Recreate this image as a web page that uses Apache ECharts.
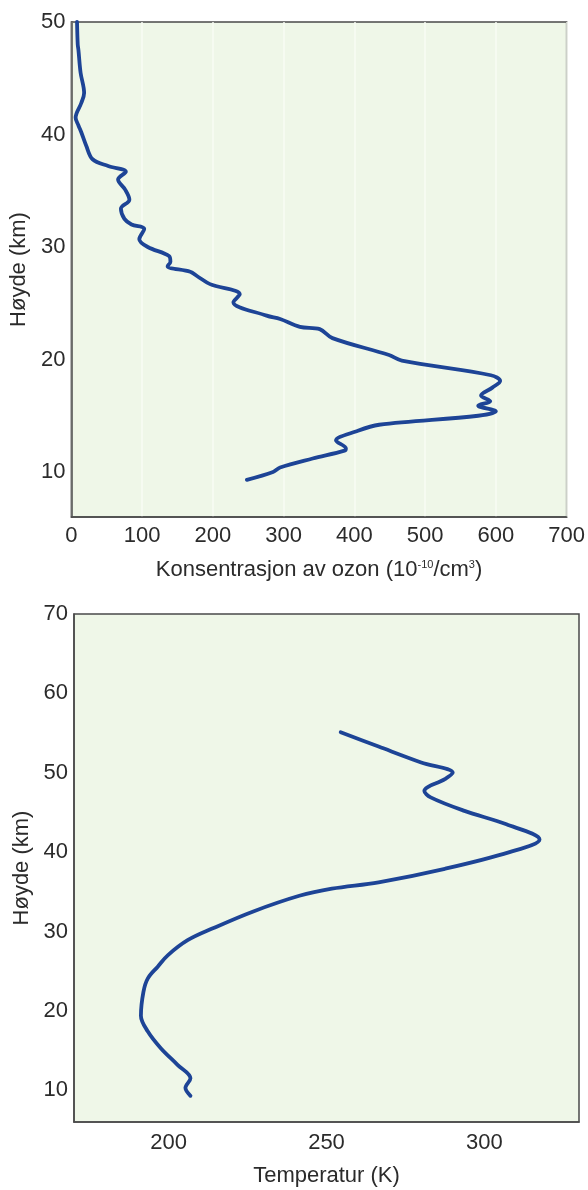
<!DOCTYPE html>
<html>
<head>
<meta charset="utf-8">
<script src="https://cdn.jsdelivr.net/npm/echarts@6/dist/echarts.min.js"></script>
<style>
html,body{margin:0;padding:0;background:#fff;}
#c{width:588px;height:1190px;}
</style>
</head>
<body>
<div id="c"></div>
<script>
// Ozone profile (top chart)
var ozoneHeight = [50.0,48.0,47.5,45.5,43.7,42.8,41.5,40.8,40.2,39.0,37.8,37.2,36.7,36.0,35.1,34.2,33.4,32.5,32.0,31.6,30.7,30.0,29.2,28.7,28.3,27.8,27.4,26.7,25.8,25.1,23.9,23.6,22.9,22.7,21.9,20.4,19.9,18.6,18.1,17.5,16.8,16.3,15.9,15.4,15.0,14.2,13.6,12.8,12.1,11.9,11.2,10.4,10.0,9.3];
var ozoneConc   = [8,9,10,13,18,14,6,10,14,21,30,52,77,66,76,82,70,75,85,103,96,108,138,140,136,168,178,196,238,229,276,295,323,351,369,449,467,593,606,595,579,592,575,600,575,435,402,374,388,386,341,295,285,248];
// Temperature profile (bottom chart)
var tempHeight = [55.1,53.3,51.3,50.0,49.2,47.7,46.9,45.2,43.5,41.6,40.0,37.9,36.2,35.4,34.5,32.5,30.4,28.9,27.0,25.6,24.1,22.4,19.4,17.4,15.3,13.2,11.5,10.3,9.3];
var tempK      = [254.5,266.5,280,290,287.5,281,283,293.7,307,317.5,308,287.5,266.5,251.7,241.4,226.6,214,206,199.7,196.6,193.4,192,191.2,193.4,197.5,202.8,206.9,205.3,206.9];
// Axis labels / titles
var ozoneTicksX = [0,100,200,300,400,500,600,700];
var ozoneTicksY = [10,20,30,40,50];
var tempTicksX = [200,250,300];
var tempTicksY = [10,20,30,40,50,60,70];
var yTitle = 'Høyde (km)';
var tempTitle = 'Temperatur (K)';

var ozoneData = ozoneHeight.map(function(h,i){return [ozoneConc[i], h];});
var tempData = tempHeight.map(function(h,i){return [tempK[i], h];});

var FONT = 'Liberation Sans, Arial, sans-serif';
var TXT = '#2b2b2b';
var LINE = '#1d4496';
var BG = '#eff7e8';
var FRAME = '#4a4a4a';

function onlyIn(list){
  return function(v){ return list.indexOf(Math.round(v)) >= 0 ? String(Math.round(v)) : ''; };
}

var chart = echarts.init(document.getElementById('c'), null, {renderer:'canvas'});
chart.setOption({
  backgroundColor:'#fff',
  animation:false,
  grid:[
    {left:71, top:22, width:496, height:495, show:true, backgroundColor:BG, borderColor:FRAME, borderWidth:1.5},
    {left:74, top:614, width:505, height:508, show:true, backgroundColor:BG, borderColor:FRAME, borderWidth:1.5}
  ],
  xAxis:[
    {gridIndex:0, type:'value', min:0, max:700, interval:100,
     axisLine:{show:true, lineStyle:{color:FRAME, width:1.5}}, axisTick:{show:false},
     splitLine:{show:true, lineStyle:{color:'#f8fcf4', width:1.5}},
     axisLabel:{color:TXT, fontSize:22, fontFamily:FONT, margin:8, formatter:onlyIn(ozoneTicksX)},
     name:'{n|Konsentrasjon av ozon (10}{s|-10}{n|/cm}{s|3}{n|)}', nameLocation:'middle', nameGap:42,
     nameTextStyle:{rich:{n:{fontSize:22, fontFamily:FONT, color:TXT}, s:{fontSize:11, fontFamily:FONT, color:TXT, verticalAlign:'top', padding:[0,0,10,0]}}}
    },
    {gridIndex:1, type:'value', min:170, max:330, interval:10,
     axisLine:{show:true, lineStyle:{color:FRAME, width:1.5}}, axisTick:{show:false},
     splitLine:{show:false},
     axisLabel:{color:TXT, fontSize:22, fontFamily:FONT, margin:10, formatter:onlyIn(tempTicksX)},
     name:tempTitle, nameLocation:'middle', nameGap:43,
     nameTextStyle:{fontSize:22, fontFamily:FONT, color:TXT}
    }
  ],
  yAxis:[
    {gridIndex:0, type:'value', min:6, max:50, interval:2,
     axisLine:{show:true, lineStyle:{color:FRAME, width:1.5}}, axisTick:{show:false},
     splitLine:{show:false},
     axisLabel:{color:TXT, fontSize:22, fontFamily:FONT, margin:6, formatter:onlyIn(ozoneTicksY)},
     name:yTitle, nameLocation:'middle', nameGap:37,
     nameTextStyle:{fontSize:22, fontFamily:FONT, color:TXT}
    },
    {gridIndex:1, type:'value', min:6, max:70, interval:2,
     axisLine:{show:true, lineStyle:{color:FRAME, width:1.5}}, axisTick:{show:false},
     splitLine:{show:false},
     axisLabel:{color:TXT, fontSize:22, fontFamily:FONT, margin:6, formatter:onlyIn(tempTicksY)},
     name:yTitle, nameLocation:'middle', nameGap:39,
     nameTextStyle:{fontSize:22, fontFamily:FONT, color:TXT}
    }
  ],
  series:[
    {type:'line', xAxisIndex:0, yAxisIndex:0, data:ozoneData, showSymbol:false, smooth:0.35,
     lineStyle:{color:LINE, width:3.8, cap:'round', join:'round'}},
    {type:'line', xAxisIndex:1, yAxisIndex:1, data:tempData, showSymbol:false, smooth:0.35,
     lineStyle:{color:LINE, width:3.8, cap:'round', join:'round'}}
  ]
});
</script>
</body>
</html>
